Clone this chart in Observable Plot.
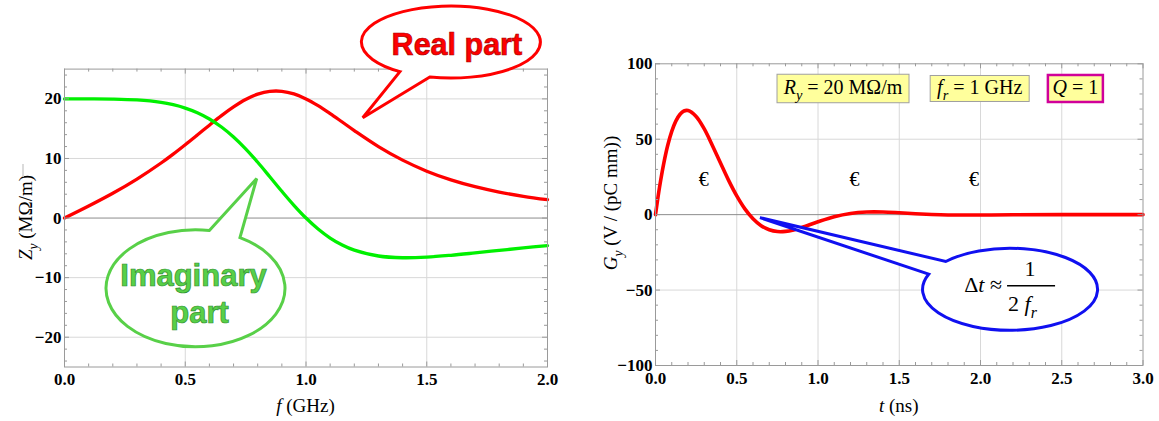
<!DOCTYPE html>
<html><head><meta charset="utf-8">
<script src="https://cdn.jsdelivr.net/npm/d3@7"></script>
<script src="https://cdn.jsdelivr.net/npm/@observablehq/plot@0.6"></script>
<style>
html,body{margin:0;padding:0;background:#fff}
#wrap{position:relative;width:1159px;height:421px;overflow:hidden}
#wrap svg{position:absolute;top:0}
</style></head><body><div id="wrap"></div>
<script>
// ---------- Left panel data: transverse impedance Z_y vs f ----------
const freqGHz = [0,0.1,0.2,0.3,0.4,0.45,0.5,0.55,0.6,0.65,0.7,0.75,0.8,0.85,0.9,0.95,1.0,1.05,1.1,1.15,1.2,1.3,1.4,1.5,1.6,1.7,1.8,1.9,2.0];
const zReal = [0,2.02,4.16,6.54,9.24,10.73,12.31,13.94,15.59,17.20,18.66,19.90,20.79,21.26,21.27,20.83,20.0,18.87,17.54,16.12,14.69,12.00,9.72,7.87,6.41,5.26,4.36,3.65,3.08];
const zImag = [20.0,20.0,19.97,19.82,19.41,19.02,18.46,17.68,16.63,15.28,13.60,11.61,9.36,6.94,4.49,2.14,0,-1.84,-3.35,-4.52,-5.39,-6.37,-6.66,-6.56,-6.25,-5.85,-5.43,-5.01,-4.62];

// ---------- Right panel data: wake function G_y vs t ----------
const timeNs = [0,0.025,0.05,0.075,0.1,0.125,0.15,0.175,0.2,0.25,0.3,0.35,0.4,0.45,0.5,0.55,0.6,0.65,0.7,0.75,0.8,0.85,0.9,1.0,1.1,1.2,1.3,1.4,1.5,1.6,1.7,1.8,2.0,2.2,2.5,3.0];
const gWake = [0,18.3,33.5,45.8,55.2,62.0,66.4,68.7,69.0,65.1,56.8,45.9,34.2,22.7,12.4,3.8,-2.7,-7.3,-10.0,-11.2,-11.1,-10.1,-8.5,-4.7,-1.35,0.82,1.74,1.75,1.25,0.63,0.12,-0.19,-0.27,-0.08,0,0];

// euro-sign markers on the right panel
const euroT = [0.297, 1.225, 1.96];
const euroG = [23, 23, 23];

// ---------- ticks ----------
const leftXTicks = [0,0.5,1,1.5,2];
const leftXMinor = [0.1,0.2,0.3,0.4,0.6,0.7,0.8,0.9,1.1,1.2,1.3,1.4,1.6,1.7,1.8,1.9];
const leftXGrid = [0.5,1,1.5];
const leftYTicks = [-20,-10,0,10,20];
const leftYMinor = [-24,-22,-18,-16,-14,-12,-8,-6,-4,-2,2,4,6,8,12,14,16,18,22,24];
const leftYGrid = [-20,-10,10,20];
const rightXTicks = [0,0.5,1,1.5,2,2.5,3];
const rightXMinor = [0.1,0.2,0.3,0.4,0.6,0.7,0.8,0.9,1.1,1.2,1.3,1.4,1.6,1.7,1.8,1.9,2.1,2.2,2.3,2.4,2.6,2.7,2.8,2.9];
const rightXGrid = [0.5,1,1.5,2,2.5];
const rightYTicks = [-100,-50,0,50,100];
const rightYMinor = [-90,-80,-70,-60,-40,-30,-20,-10,10,20,30,40,60,70,80,90];
const rightYGrid = [-50,50];

const SERIF = "Liberation Serif";
const SANS = "Liberation Sans";
const FRAME = "#9a9a9a", GRID = "#d8d8d8", ZERO = "#8c8c8c";
const fmt1 = d => d.toFixed(1);
const fmtInt = d => d < 0 ? "\u2212" + Math.abs(d) : String(d);

function frameMarks(W, H, m, xMaj, xMin, yMaj, yMin, xFmt, yFmt) {
  const pw = W - m.l - m.r, ph = H - m.t - m.b;
  const st = {stroke: FRAME, strokeWidth: 1};
  const out = [Plot.frame({stroke: FRAME})];
  for (const [vals, len] of [[xMaj, 5], [xMin, 3]]) {
    out.push(Plot.tickX(vals, {x: d => d, insetTop: ph - len, ...st}));
    out.push(Plot.tickX(vals, {x: d => d, insetBottom: ph - len, ...st}));
  }
  for (const [vals, len] of [[yMaj, 5], [yMin, 3]]) {
    out.push(Plot.tickY(vals, {y: d => d, insetRight: pw - len, ...st}));
    out.push(Plot.tickY(vals, {y: d => d, insetLeft: pw - len, ...st}));
  }
  out.push(Plot.text(xMaj, {x: d => d, frameAnchor: "bottom", lineAnchor: "top", dy: 6, text: xFmt,
    fontSize: 17, fontWeight: "bold", fontFamily: SERIF, fill: "#000"}));
  out.push(Plot.text(yMaj, {y: d => d, frameAnchor: "left", textAnchor: "end", lineAnchor: "middle", dx: -3, text: yFmt,
    fontSize: 17, fontWeight: "bold", fontFamily: SERIF, fill: "#000"}));
  return out;
}

// make sure Plot-made texts use the serif face (bold for numeric tick labels)
function fixFonts(svg) {
  d3.select(svg).selectAll("text").each(function () {
    const s = d3.select(this);
    s.style("font-family", "'Liberation Serif', 'Times New Roman', serif");
    if (/^[\u2212\d.]+$/.test(this.textContent)) s.style("font-weight", "bold").style("font-size", "17px");
    else if (this.textContent === "\u20AC") s.style("font-size", "20px");
  });
}

function richText(g, x, y, parts, o = {}) {
  const size = o.size || 19;
  const t = g.append("text").attr("font-family", o.family || SERIF).attr("font-size", size)
    .attr("text-anchor", o.anchor || "start").attr("fill", o.fill || "#000").style("white-space", "pre");
  if (o.rotate) t.attr("transform", `translate(${x},${y}) rotate(${o.rotate})`); else t.attr("x", x).attr("y", y);
  let shifted = 0;
  for (const p of parts) {
    const s = t.append("tspan").text(p.t);
    if (p.i) s.attr("font-style", "italic");
    const target = p.sub ? size * 0.3 : 0;
    if (target !== shifted) { s.attr("dy", target - shifted); shifted = target; }
    if (p.sub) s.attr("font-size", size * 0.72);
  }
  return t;
}

function balloonPath(cx, cy, rx, ry, a1, a2, tx, ty) {
  const P = a => [cx + rx * Math.cos(a * Math.PI / 180), cy + ry * Math.sin(a * Math.PI / 180)];
  const [x1, y1] = P(a1), [x2, y2] = P(a2);
  return `M${x1},${y1}L${tx},${ty}L${x2},${y2}A${rx},${ry} 0 1 1 ${x1},${y1}Z`;
}

const wrap = document.getElementById("wrap");
const H = 421;

// ================= LEFT =================
const W1 = 560, m1 = {l: 64, r: 13, t: 68.6, b: 54.5};
const leftIdx = d3.range(freqGHz.length);
const left = Plot.plot({
  width: W1, height: H,
  marginLeft: m1.l, marginRight: m1.r, marginTop: m1.t, marginBottom: m1.b,
  x: {domain: [0, 2], axis: null}, y: {domain: [-25, 25], axis: null},
  style: {fontFamily: SERIF, fontSize: "17px", background: "transparent", overflow: "visible", color: "#000"},
  marks: [
    Plot.gridX(leftXGrid, {stroke: GRID, strokeOpacity: 1}),
    Plot.gridY(leftYGrid, {stroke: GRID, strokeOpacity: 1}),
    Plot.ruleY([0], {stroke: ZERO}),
    Plot.line(leftIdx, {x: i => freqGHz[i], y: i => zReal[i], stroke: "#ff0000", strokeWidth: 3.3, curve: "catmull-rom"}),
    Plot.line(leftIdx, {x: i => freqGHz[i], y: i => zImag[i], stroke: "#00f000", strokeWidth: 3.3, curve: "catmull-rom"}),
    ...frameMarks(W1, H, m1, leftXTicks, leftXMinor, leftYTicks, leftYMinor, fmt1, fmtInt)
  ]
});
left.style.left = "0px";
wrap.appendChild(left);
fixFonts(left);
{
  const x = left.scale("x").apply, y = left.scale("y").apply;
  const g = d3.select(left).append("g");
  // Real part balloon
  const rc = [x(1.602), y(29.46)], rt = [x(1.237), y(16.74)];
  g.append("path").attr("d", balloonPath(rc[0], rc[1], 89.5, 36, 103.6, 124.7, rt[0], rt[1]))
    .attr("fill", "#fff").attr("stroke", "#ff0000").attr("stroke-width", 3);
  g.append("text").attr("x", rc[0] + 6).attr("y", rc[1] + 13).attr("text-anchor", "middle")
    .attr("font-family", SANS).attr("font-weight", "bold").attr("font-size", 30.5)
    .attr("fill", "#ff0000").attr("stroke", "#a80000").attr("stroke-width", 0.7).text("Real part");
  // Imaginary part balloon
  const gc = [x(0.5445), y(-11.88)], gt = [x(0.798), y(6.55)];
  g.append("path").attr("d", balloonPath(gc[0], gc[1], 89.5, 58.5, -81.1, -60.2, gt[0], gt[1]))
    .attr("fill", "#fff").attr("stroke", "#58d048").attr("stroke-width", 3);
  for (const [txt, dx, dy] of [["Imaginary", -2, -2], ["part", 4, 35]]) {
    g.append("text").attr("x", gc[0] + dx).attr("y", gc[1] + dy).attr("text-anchor", "middle")
      .attr("font-family", SANS).attr("font-weight", "bold").attr("font-size", 31)
      .attr("fill", "#58d048").attr("stroke", "#2f8f2f").attr("stroke-width", 0.7).text(txt);
  }
  // axis titles
  richText(g, (m1.l + W1 - m1.r) / 2, 412, [{t: "f", i: true}, {t: " (GHz)"}], {anchor: "middle", size: 19});
  richText(g, 32, (m1.t + H - m1.b) / 2, [{t: "Z", i: true}, {t: "y", i: true, sub: true}, {t: " (M\u03A9/m)"}],
    {anchor: "middle", size: 19, rotate: -90});
  g.append("line").attr("x1", 23).attr("x2", 23).attr("y1", 164).attr("y2", 177).attr("stroke", "#cfcfcf").attr("stroke-width", 1.5);
}

// ================= RIGHT =================
const W2 = 589, m2 = {l: 85, r: 16.5, t: 63.3, b: 56};
const rightIdx = d3.range(timeNs.length);
const right = Plot.plot({
  width: W2, height: H,
  marginLeft: m2.l, marginRight: m2.r, marginTop: m2.t, marginBottom: m2.b,
  x: {domain: [0, 3], axis: null}, y: {domain: [-100, 100], axis: null},
  style: {fontFamily: SERIF, fontSize: "17px", background: "transparent", overflow: "visible", color: "#000"},
  marks: [
    Plot.gridX(rightXGrid, {stroke: GRID, strokeOpacity: 1}),
    Plot.gridY(rightYGrid, {stroke: GRID, strokeOpacity: 1}),
    Plot.ruleY([0], {stroke: ZERO}),
    Plot.line(rightIdx, {x: i => timeNs[i], y: i => gWake[i], stroke: "#ff0000", strokeWidth: 3.6, curve: "catmull-rom"}),
    Plot.text(d3.range(euroT.length), {x: i => euroT[i], y: i => euroG[i], text: () => "\u20AC", fontSize: 20, fontFamily: SERIF}),
    ...frameMarks(W2, H, m2, rightXTicks, rightXMinor, rightYTicks, rightYMinor, fmt1, fmtInt)
  ]
});
right.style.left = "570px";
wrap.appendChild(right);
fixFonts(right);
{
  const x = right.scale("x").apply, y = right.scale("y").apply;
  const g = d3.select(right).append("g");
  // parameter boxes
  const boxes = [
    {t: 1.157, w: 132, h: 28.5, stroke: "#a0a0a0", sw: 1, parts: [{t: "R", i: true}, {t: "y", i: true, sub: true}, {t: " = 20 M\u03A9/m"}]},
    {t: 1.998, w: 99, h: 26, stroke: "#a0a0a0", sw: 1, parts: [{t: "f", i: true}, {t: "r", i: true, sub: true}, {t: " = 1 GHz"}]},
    {t: 2.587, w: 55, h: 27, stroke: "#d0009a", sw: 2.5, parts: [{t: "Q", i: true}, {t: " = 1"}]}
  ];
  for (const b of boxes) {
    const cx = x(b.t), cy = y(83.3);
    g.append("rect").attr("x", cx - b.w / 2).attr("y", cy - b.h / 2).attr("width", b.w).attr("height", b.h)
      .attr("fill", "#ffff9c").attr("stroke", b.stroke).attr("stroke-width", b.sw);
    richText(g, cx, cy + 6, b.parts, {anchor: "middle", size: 20});
  }
  // blue balloon
  const bc = [x(2.185), y(-49.8)], bt = [x(0.646), y(-2.3)];
  g.append("path").attr("d", balloonPath(bc[0], bc[1], 87.5, 41, -158.4, -137.3, bt[0], bt[1]))
    .attr("fill", "#fff").attr("stroke", "#1010f0").attr("stroke-width", 3).attr("stroke-linejoin", "miter");
  richText(g, bc[0] - 8, bc[1] + 3, [{t: "\u0394"}, {t: "t", i: true}, {t: " \u2248"}], {anchor: "end", size: 22});
  richText(g, bc[0] + 20, bc[1] - 13, [{t: "1"}], {anchor: "middle", size: 22});
  g.append("line").attr("x1", bc[0] - 3).attr("x2", bc[0] + 45).attr("y1", bc[1] - 3.5).attr("y2", bc[1] - 3.5)
    .attr("stroke", "#000").attr("stroke-width", 1.3);
  richText(g, bc[0] - 2, bc[1] + 22, [{t: "2 "}, {t: "f", i: true}, {t: "r", i: true, sub: true}], {anchor: "start", size: 22});
  // axis titles
  richText(g, (m2.l + W2 - m2.r) / 2, 412, [{t: "t", i: true}, {t: " (ns)"}], {anchor: "middle", size: 19});
  richText(g, 47, 203, [{t: "G", i: true}, {t: "y", i: true, sub: true}, {t: " (V / (pC mm))"}],
    {anchor: "middle", size: 19, rotate: -90});
}
</script></body></html>
